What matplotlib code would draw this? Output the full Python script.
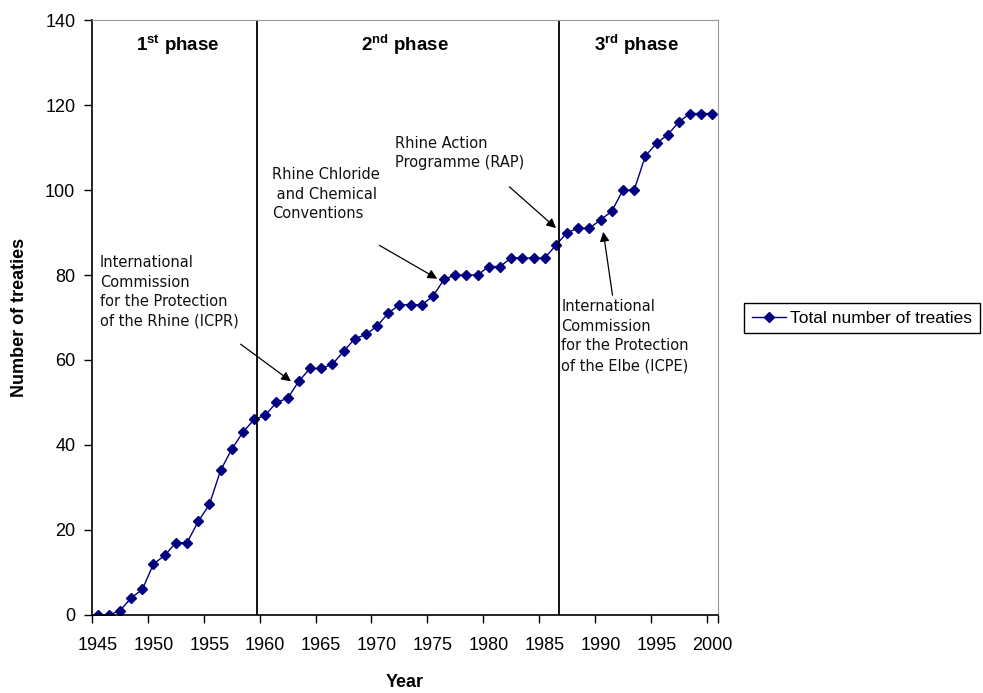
import matplotlib
matplotlib.use("Agg")
import matplotlib.pyplot as plt
import numpy as np

years = list(range(1945, 2001))
treaties = [0, 0, 1, 4, 6, 12, 14, 17, 17, 22,
            26, 34, 39, 43, 46, 47, 50, 51, 55, 58,
            58, 59, 62, 65, 66, 68, 71, 73, 73, 73,
            75, 79, 80, 80, 80, 82, 82, 84, 84, 84,
            84, 87, 90, 91, 91, 93, 95, 100, 100, 108,
            111, 113, 116, 118, 118, 118]

phase_breaks = [1959.25, 1986.3]
phase_labels = ["1$^{\\mathbf{st}}$ phase", "2$^{\\mathbf{nd}}$ phase", "3$^{\\mathbf{rd}}$ phase"]
phase_label_x = [1952.2, 1972.5, 1993.2]

year_ticks = list(range(1945, 2001, 5))

plt.rcParams['mathtext.fontset'] = 'custom'
plt.rcParams['mathtext.rm'] = 'Liberation Sans'
plt.rcParams['mathtext.bf'] = 'Liberation Sans:bold'

fig = plt.figure(figsize=(9.83, 6.93), dpi=100)
ax = fig.add_axes([0.0936, 0.1126, 0.6368, 0.8585])

line, = ax.plot(years, treaties, color='#000080', marker='D', markersize=5,
                linewidth=1.0, label='Total number of treaties')

ax.set_xlim(1944.5, 2000.5)
ax.set_ylim(0, 140)

for xb in phase_breaks:
    ax.axvline(xb, color='black', linewidth=1.3)

for lab, xl in zip(phase_labels, phase_label_x):
    ax.text(xl, 137.2, lab, ha='center', va='top', fontsize=13.5, fontweight='bold',
            family='Liberation Sans')

# tick labels on categories, tick marks on boundaries
ax.set_xticks(year_ticks)
ax.set_xticklabels([str(y) for y in year_ticks], family='Liberation Sans', fontsize=13)
ax.tick_params(axis='x', which='major', length=0, pad=16)
ax.set_xticks([1944.5 + 5 * k for k in range(12)] + [2000.5], minor=True)
ax.tick_params(axis='x', which='minor', length=6, direction='out', width=1)

ax.set_yticks(range(0, 141, 20))
ax.set_yticklabels([str(v) for v in range(0, 141, 20)], family='Liberation Sans', fontsize=13)
ax.tick_params(axis='y', length=6, direction='out', width=1, pad=6)

ax.spines['top'].set_color('#999999')
ax.spines['right'].set_color('#999999')
ax.spines['left'].set_linewidth(1.2)
ax.spines['bottom'].set_linewidth(1.2)

ax.set_xlabel('Year', fontsize=13, fontweight='bold', family='Liberation Sans', labelpad=14)
ax.set_ylabel('Number of treaties', fontsize=13, fontweight='bold', family='Liberation Sans',
              labelpad=12)

ann_style = dict(fontsize=10.5, family='DejaVu Sans', ha='left', va='center', linespacing=1.38,
                 color='#111111')
arrow = dict(arrowstyle='-|>', color='black', lw=0.9, mutation_scale=14)

ax.annotate("International\nCommission\nfor the Protection\nof the Rhine (ICPR)",
            xy=(1962.5, 54.6), xytext=(1945.2, 76), textcoords='data', **ann_style)
ax.annotate("", xy=(1962.5, 54.6), xytext=(1957.6, 64.1), arrowprops=arrow)

ax.annotate("Rhine Chloride\n and Chemical\nConventions",
            xy=(1975.6, 78.8), xytext=(1960.6, 99), **ann_style)
ax.annotate("", xy=(1975.6, 78.8), xytext=(1970.0, 87.3), arrowprops=arrow)

ax.annotate("Rhine Action\nProgramme (RAP)",
            xy=(1986.2, 90.6), xytext=(1971.6, 108.7), **ann_style)
ax.annotate("", xy=(1986.2, 90.6), xytext=(1981.65, 101.2), arrowprops=arrow)

ax.annotate("International\nCommission\nfor the Protection\nof the Elbe (ICPE)",
            xy=(1990.2, 90.8), xytext=(1986.5, 65.6), **ann_style)
ax.annotate("", xy=(1990.2, 90.8), xytext=(1991.1, 74.6), arrowprops=arrow)

leg = fig.legend(handles=[line], loc='center left', bbox_to_anchor=(0.748, 0.541),
                 frameon=True, fancybox=False, edgecolor='black', framealpha=1,
                 prop={'family': 'Liberation Sans', 'size': 12.5}, handlelength=2.0,
                 handletextpad=0.2, borderpad=0.45)
leg.get_frame().set_linewidth(1.0)

fig.savefig('out.png', dpi=100, facecolor='white')
